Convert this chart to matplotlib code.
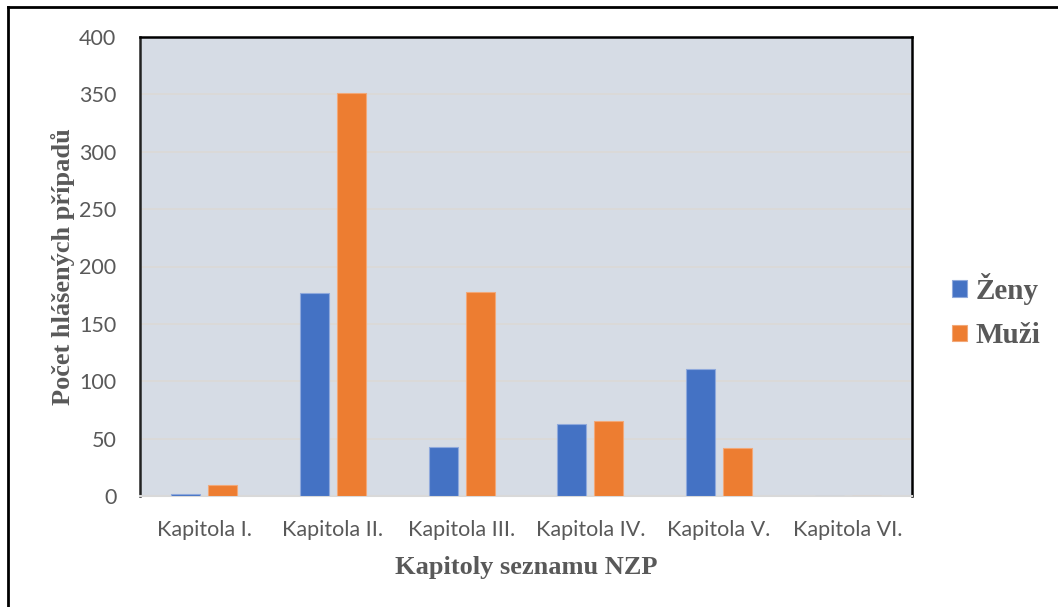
import numpy as np
from matplotlib import pyplot as plt
from matplotlib.lines import Line2D

#% data
kapitoly = ['Kapitola I.', 'Kapitola II.', 'Kapitola III.',
            'Kapitola IV.', 'Kapitola V.', 'Kapitola VI.']
zeny = [2, 177, 43, 63, 111, 0]
muzi = [10, 351, 178, 65, 42, 0]
yticks = [0, 50, 100, 150, 200, 250, 300, 350, 400]

#% figure
W, H = 1058, 607
fig = plt.figure(figsize=(W/100, H/100), dpi=100)
ax = fig.add_axes([140/W, 1-496/H, 772/W, 459/H])
ax.set_facecolor('#D6DCE5')

x = np.arange(len(kapitoly))
w = 0.225
off = 0.144
ax.bar(x-off, zeny, w, color='#4472C4', edgecolor='#8FA9DC', linewidth=0.8,
       label='Ženy', zorder=3)
ax.bar(x+off, muzi, w, color='#ED7D31', edgecolor='#F2A878', linewidth=0.8,
       label='Muži', zorder=3)

ax.set_xlim(-0.5, len(kapitoly)-0.5)
ax.set_ylim(0, 400)
ax.set_yticks(yticks)
ax.set_xticks(x)
ax.set_xticklabels(kapitoly)
ax.yaxis.grid(True, color='#DBD9D6', linewidth=1.2, zorder=0)
ax.tick_params(axis='both', length=0, labelsize=15.5, labelcolor='#595959')
ax.tick_params(axis='y', pad=17)
ax.tick_params(axis='x', pad=17)
for lab in ax.get_xticklabels() + ax.get_yticklabels():
    lab.set_family('Lato')

for s in ['left', 'top', 'right']:
    ax.spines[s].set_color('black')
    ax.spines[s].set_linewidth(1.8)
ax.spines['left'].set_color('#222222')
ax.spines['bottom'].set_color('#D9D9D9')
ax.spines['bottom'].set_linewidth(1.5)

ax.set_xlabel('Kapitoly seznamu NZP', family='Liberation Serif', weight='bold',
              fontsize=19, color='#595959', labelpad=12)
ax.set_ylabel('Počet hlášených případů', family='Liberation Serif', weight='bold',
              fontsize=19, color='#595959', labelpad=3)

leg = fig.legend(loc='center left', bbox_to_anchor=(952/W, 1-311/H), frameon=False,
                 prop={'family': 'Liberation Serif', 'weight': 'bold', 'size': 21},
                 handlelength=0.5, handleheight=0.5, handletextpad=0.3,
                 labelspacing=0.6, labelcolor='#595959',
                 borderpad=0, borderaxespad=0)

# outer frame of the picture
fig.add_artist(Line2D([8/W, 8/W], [0, 1-7/H], color='black', lw=2))
fig.add_artist(Line2D([8/W, 1], [1-7/H, 1-7/H], color='black', lw=2))

fig.savefig('out.png', dpi=100)
